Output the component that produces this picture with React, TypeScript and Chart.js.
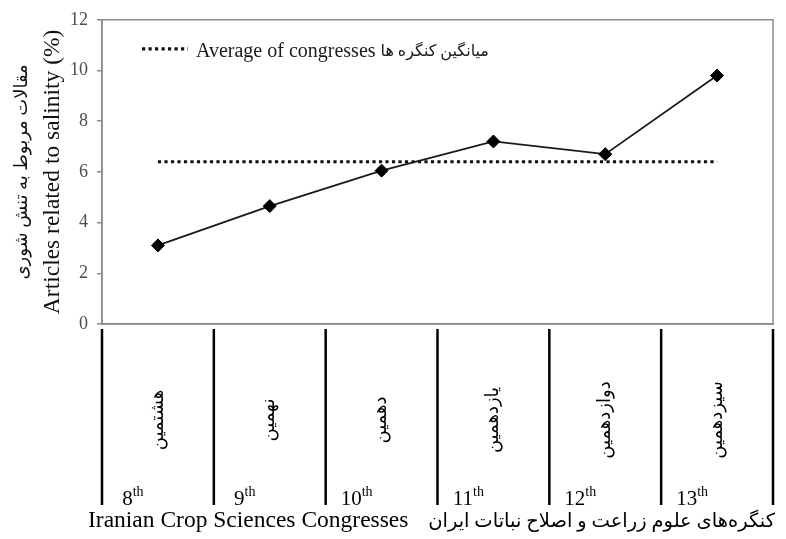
import React, { useEffect, useRef } from 'react';
import { Chart, registerables } from 'chart.js';

Chart.register(...registerables);

// ---- data ----
const congressLabels = ['8th', '9th', '10th', '11th', '12th', '13th'];
const congressOrdinals = ['8', '9', '10', '11', '12', '13'];
const congressNamesFa = ['هشتمین', 'نهمین', 'دهمین', 'یازدهمین', 'دوازدهمین', 'سیزدهمین'];
const salinityShare = [3.1, 4.65, 6.05, 7.2, 6.7, 9.8];
const averageShare = [6.4, 6.4, 6.4, 6.4, 6.4, 6.4];
const yTickMin = 0;
const yTickMax = 12;
const yTickStep = 2;

const legendTextEn = 'Average of congresses';
const legendTextFa = 'میانگین کنگره ها';
const yTitleEn = 'Articles related to salinity (%)';
const yTitleFa = 'مقالات مربوط به تنش شوری';
const xTitleEn = 'Iranian Crop Sciences Congresses';
const xTitleFa = 'کنگره‌های علوم زراعت و اصلاح نباتات ایران';

const SERIF = "'Liberation Serif', 'Times New Roman', 'DejaVu Sans', serif";

const decorPlugin = {
  id: 'decor',
  afterDraw(chart: any) {
    const { ctx, chartArea: a, scales } = chart;
    const xs = scales.x;
    ctx.save();

    // plot frame
    ctx.strokeStyle = '#8c8c8c';
    ctx.lineWidth = 1.5;
    ctx.setLineDash([]);
    ctx.strokeRect(a.left, a.top, a.right - a.left, a.bottom - a.top);

    // legend inside plot
    const ly = a.top + 29;
    ctx.strokeStyle = '#111';
    ctx.lineWidth = 3.2;
    ctx.setLineDash([3.2, 3.3]);
    ctx.beginPath();
    ctx.moveTo(a.left + 40, ly);
    ctx.lineTo(a.left + 86, ly);
    ctx.stroke();
    ctx.setLineDash([]);
    ctx.fillStyle = '#1a1a1a';
    ctx.font = `20px ${SERIF}`;
    ctx.textAlign = 'left';
    ctx.textBaseline = 'alphabetic';
    ctx.fillText(legendTextEn, a.left + 94, ly + 8);
    const ew = ctx.measureText(legendTextEn).width;
    ctx.font = `16px ${SERIF}`;
    ctx.fillText(legendTextFa, a.left + 94 + ew + 5, ly + 7);

    // y titles
    const cy = (a.top + a.bottom) / 2;
    ctx.save();
    ctx.translate(53, cy);
    ctx.rotate(-Math.PI / 2);
    ctx.textAlign = 'center';
    ctx.textBaseline = 'middle';
    ctx.fillStyle = '#111';
    ctx.font = `23.5px ${SERIF}`;
    ctx.fillText(yTitleEn, 0, 0);
    ctx.restore();
    ctx.save();
    ctx.translate(22, cy);
    ctx.rotate(-Math.PI / 2);
    ctx.textAlign = 'center';
    ctx.textBaseline = 'middle';
    ctx.fillStyle = '#111';
    ctx.font = `18px ${SERIF}`;
    ctx.fillText(yTitleFa, 0, 0);
    ctx.restore();

    // table below the axis
    const p0 = xs.getPixelForValue(0);
    const p1 = xs.getPixelForValue(1);
    const half = (p1 - p0) / 2;
    ctx.strokeStyle = '#000';
    ctx.lineWidth = 2.5;
    for (let i = 0; i <= congressLabels.length; i++) {
      const bx = i < congressLabels.length ? xs.getPixelForValue(i) - half : xs.getPixelForValue(i - 1) + half;
      ctx.beginPath();
      ctx.moveTo(bx, a.bottom + 5);
      ctx.lineTo(bx, a.bottom + 181);
      ctx.stroke();
    }

    for (let i = 0; i < congressLabels.length; i++) {
      const px = xs.getPixelForValue(i);
      // rotated Persian ordinal names
      ctx.save();
      ctx.translate(px, a.bottom + 96);
      ctx.rotate(-Math.PI / 2);
      ctx.textAlign = 'center';
      ctx.textBaseline = 'middle';
      ctx.fillStyle = '#000';
      ctx.font = `18px ${SERIF}`;
      ctx.fillText(congressNamesFa[i], 0, 0);
      ctx.restore();

      // ordinal numbers with superscript
      ctx.fillStyle = '#000';
      ctx.textBaseline = 'alphabetic';
      ctx.font = `21px ${SERIF}`;
      const num = congressOrdinals[i];
      const nw = ctx.measureText(num).width;
      ctx.font = `14px ${SERIF}`;
      const sw = ctx.measureText('th').width;
      const start = px - 25 - (nw + sw) / 2;
      ctx.textAlign = 'left';
      ctx.font = `21px ${SERIF}`;
      ctx.fillText(num, start, a.bottom + 181);
      ctx.font = `14px ${SERIF}`;
      ctx.fillText('th', start + nw, a.bottom + 172);
    }

    // bottom titles
    ctx.fillStyle = '#000';
    ctx.textBaseline = 'alphabetic';
    ctx.font = `23.5px ${SERIF}`;
    ctx.textAlign = 'left';
    ctx.fillText(xTitleEn, 88, a.bottom + 203);
    ctx.font = `19.5px ${SERIF}`;
    ctx.textAlign = 'right';
    ctx.fillText(xTitleFa, a.right + 2, a.bottom + 203);

    ctx.restore();
  },
};

export default function App() {
  const canvasRef = useRef<HTMLCanvasElement | null>(null);

  useEffect(() => {
    if (!canvasRef.current) return;
    const chart = new Chart(canvasRef.current, {
      type: 'line',
      data: {
        labels: congressLabels,
        datasets: [
          {
            label: 'Articles',
            data: salinityShare,
            borderColor: '#1a1a1a',
            borderWidth: 1.8,
            pointStyle: 'rectRot',
            pointRadius: 6.5,
            pointBackgroundColor: '#000',
            pointBorderColor: '#000',
            pointBorderWidth: 1,
            tension: 0,
            fill: false,
          },
          {
            label: 'Average',
            data: averageShare,
            borderColor: '#111',
            borderWidth: 3.2,
            borderDash: [3.2, 3.3],
            pointRadius: 0,
            tension: 0,
            fill: false,
          },
        ],
      },
      options: {
        animation: false,
        responsive: true,
        maintainAspectRatio: false,
        layout: { padding: { left: 0, right: 13, top: 18, bottom: 215 } },
        plugins: {
          legend: { display: false },
          tooltip: { enabled: false },
        },
        events: [],
        scales: {
          x: {
            type: 'category',
            offset: true,
            grid: { display: false },
            ticks: { display: false },
            border: { display: true, color: '#8c8c8c', width: 1.5 },
            afterFit: (s: any) => {
              s.height = 0;
            },
          },
          y: {
            min: yTickMin,
            max: yTickMax,
            ticks: {
              stepSize: yTickStep,
              color: '#4d4d4d',
              font: { family: SERIF, size: 18 },
              padding: 9,
            },
            grid: {
              drawOnChartArea: false,
              drawTicks: true,
              tickLength: 5,
              color: '#8c8c8c',
              lineWidth: 1.5,
            },
            border: { display: true, color: '#8c8c8c', width: 1.5 },
            afterFit: (s: any) => {
              s.width = 102;
            },
          },
        },
      },
      plugins: [decorPlugin],
    });
    return () => chart.destroy();
  }, []);

  return (
    <div style={{ position: 'fixed', left: 0, top: 0, width: 786, height: 539, background: '#fff' }}>
      <canvas ref={canvasRef} />
    </div>
  );
}
